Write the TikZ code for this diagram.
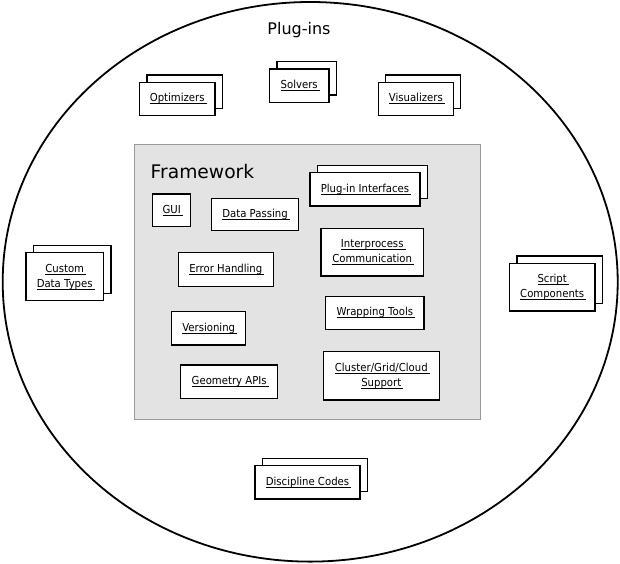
\documentclass[tikz,border=0pt]{standalone}
\usepackage{fontspec}
\setmainfont{DejaVu Sans}
\newfontfamily\boxfont{DejaVu Sans}[FakeStretch=0.92]
\newcommand\ulabel[1]{\setbox0\hbox{#1}\rlap{\rule[-2.4pt]{\dimexpr\wd0+2pt\relax}{0.9pt}}\box0}
\usetikzlibrary{shadows}

\begin{document}
\begin{tikzpicture}[x=1pt,y=-1pt,
  comp/.style={draw,line width=1.5pt,fill=white,inner sep=0pt,align=center,
    font=\boxfont\fontsize{11}{15}\selectfont},
  plugin/.style={comp,copy shadow={shadow xshift=7.4pt,shadow yshift=7.4pt,
    opacity=1,fill=white,draw=black,line width=1.5pt}}]
  \useasboundingbox (0,0) rectangle (620,563);
  \draw[line width=1.8pt] (310.2,281.8) ellipse [x radius=307.5,y radius=279.8];
  \node[anchor=base,font=\fontsize{16}{19}\selectfont] (pluginsl) at (299,34.3) {Plug-ins};

  \node[plugin,minimum width=75.7pt,minimum height=33.4pt] (opt) at (177.2,99) {\ulabel{Optimizers}};
  \node[plugin,minimum width=59.7pt,minimum height=33.3pt] (solv) at (299.2,85.7) {\ulabel{Solvers}};
  \node[plugin,minimum width=75pt,minimum height=33.4pt] (vis) at (415.8,99) {\ulabel{Visualizers}};
  \node[plugin,minimum width=77.3pt,minimum height=48pt] (cdt) at (64.7,276.7) {\ulabel{Custom}\\\ulabel{Data Types}};
  \node[plugin,minimum width=85.7pt,minimum height=47.7pt] (script) at (552.2,287.2) {\ulabel{Script}\\\ulabel{Components}};
  \node[plugin,minimum width=105pt,minimum height=33.3pt] (disc) at (307.5,482.3) {\ulabel{Discipline Codes}};

  % framework
  \node[draw=black!40,fill=black!11,line width=0.8pt,minimum width=346.5pt,minimum height=275pt] (fw) at (307.25,281.5) {};
  \node[anchor=base west,inner sep=0pt,font=\fontsize{18.7}{22}\selectfont] (fwl) at (150.5,178) {Framework};

  \node[plugin,minimum width=110pt,minimum height=33.3pt] (pif) at (365,189.3) {\ulabel{Plug-in Interfaces}};
  \node[comp,minimum width=38pt,minimum height=32.7pt] (gui) at (171.7,210.3) {\ulabel{GUI}};
  \node[comp,minimum width=86.6pt,minimum height=32.4pt] (dp) at (255,214.5) {\ulabel{Data Passing}};
  \node[comp,minimum width=102.3pt,minimum height=47.7pt] (ipc) at (372.2,252.2) {\ulabel{Interprocess}\\\ulabel{Communication}};
  \node[comp,minimum width=95pt,minimum height=34pt] (err) at (225.8,269.7) {\ulabel{Error Handling}};
  \node[comp,minimum width=98.3pt,minimum height=32.6pt] (wrap) at (374.8,313) {\ulabel{Wrapping Tools}};
  \node[comp,minimum width=74pt,minimum height=33.3pt] (vers) at (208.7,328.3) {\ulabel{Versioning}};
  \node[comp,minimum width=116pt,minimum height=48.3pt] (cgc) at (381.3,375.8) {\ulabel{Cluster/Grid/Cloud}\\\ulabel{Support}};
  \node[comp,minimum width=97pt,minimum height=33.3pt] (geo) at (229.2,381.7) {\ulabel{Geometry APIs}};
\end{tikzpicture}
\end{document}
